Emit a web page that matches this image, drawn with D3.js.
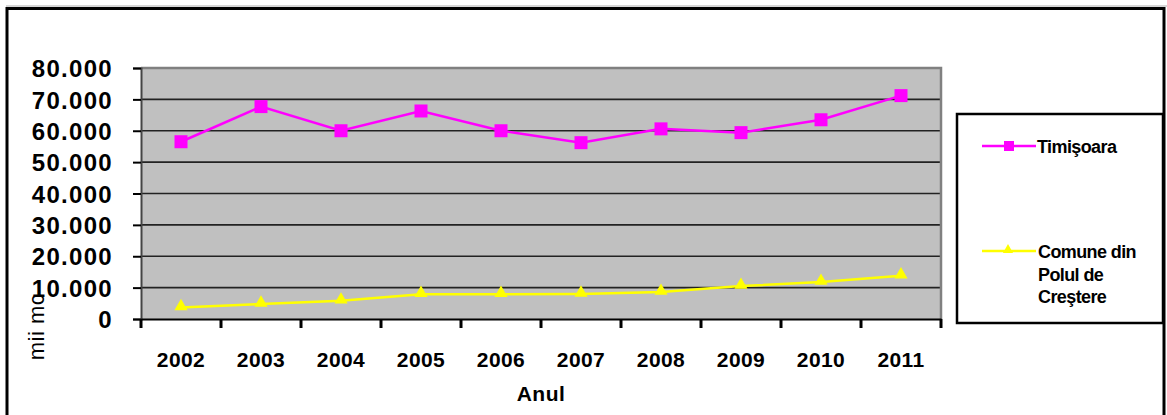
<!DOCTYPE html>
<html><head><meta charset="utf-8">
<script src="https://cdn.jsdelivr.net/npm/d3@7"></script>
<style>body{margin:0;background:#fff}svg{display:block}text{font-family:"Liberation Sans",Arial,sans-serif}</style>
</head><body><svg id="c" width="1167" height="415"></svg>
<script>
const years = ["2002","2003","2004","2005","2006","2007","2008","2009","2010","2011"];
const timisoara = [56500, 67700, 60000, 66300, 60000, 56200, 60600, 59400, 63500, 71200];
const comune = [3700, 4800, 5800, 7900, 7900, 8000, 8600, 10500, 11800, 13800];
const yTicks = [0,10000,20000,30000,40000,50000,60000,70000,80000];
const seriesNames = ["Timişoara", ["Comune din","Polul de","Creştere"]];

const svg = d3.select("#c");
const L = 141, R = 941, T = 68, B = 319;

// outer frame
svg.append("line").attr("x1",6).attr("x2",1167).attr("y1",6).attr("y2",6).attr("stroke","#c8c8c8").attr("stroke-width",1.5);
svg.append("rect").attr("x",7).attr("y",8.5).attr("width",1157).attr("height",420)
  .attr("fill","none").attr("stroke","#000").attr("stroke-width",3);

const x = d3.scaleBand().domain(years).range([L,R]);
const y = d3.scaleLinear().domain([0,80000]).range([B,T]);

// plot area
svg.append("rect").attr("x",L).attr("y",T).attr("width",R-L).attr("height",B-T).attr("fill","#c0c0c0");
svg.append("g").selectAll("line").data(yTicks.filter(d=>d>0 && d<80000)).join("line")
  .attr("x1",L).attr("x2",R).attr("y1",d=>y(d)).attr("y2",d=>y(d))
  .attr("stroke","#222").attr("stroke-width",1.6);
svg.append("path").attr("d",`M${L},${T}H${R}V${B}`).attr("fill","none").attr("stroke","#808080").attr("stroke-width",2.5);

const fmt = d => d===0 ? "0" : d3.format(",")(d).replace(/,/g,".");
const ya = svg.append("g").attr("transform",`translate(${L},0)`)
  .call(d3.axisLeft(y).tickValues(yTicks).tickSize(8).tickPadding(20).tickFormat(fmt));
ya.select(".domain").attr("stroke","#444").attr("stroke-width",2);
ya.selectAll(".tick line").attr("stroke","#000").attr("stroke-width",2);
ya.selectAll("text").attr("font-size",24).attr("font-weight","bold").attr("fill","#000")
  .attr("font-family","'Liberation Sans',Arial,sans-serif").style("letter-spacing","1.3px").attr("dy","0.36em");

const xa = svg.append("g").attr("transform",`translate(0,${B})`)
  .call(d3.axisBottom(x).tickSize(0).tickPadding(33));
xa.select(".domain").attr("stroke","#000").attr("stroke-width",2);
xa.selectAll("text").attr("font-size",21).attr("font-weight","bold").attr("fill","#000")
  .attr("font-family","'Liberation Sans',Arial,sans-serif").style("letter-spacing","0.4px");
const bounds = years.map(d=>x(d)).concat([x(years[years.length-1])+x.bandwidth()]);
svg.append("g").selectAll("line").data(bounds).join("line")
  .attr("x1",d=>d).attr("x2",d=>d).attr("y1",B).attr("y2",B+9)
  .attr("stroke","#000").attr("stroke-width",3);

svg.append("text").attr("x",(L+R)/2).attr("y",401).attr("text-anchor","middle")
  .attr("font-size",21).attr("font-weight","bold").style("letter-spacing","0.5px").text("Anul");
svg.append("text").attr("transform","translate(44,327) rotate(-90)").attr("text-anchor","middle")
  .attr("font-size",22).style("letter-spacing","0.5px").text("mii mc");

const cx = d => x(d)+x.bandwidth()/2;
const line = d3.line().x((d,i)=>cx(years[i])).y(d=>y(d));

svg.append("path").datum(comune).attr("d",line).attr("fill","none").attr("stroke","#ffff00").attr("stroke-width",2.5);
const tri = d3.symbol().type(d3.symbolTriangle).size(75);
svg.append("g").selectAll("path").data(comune).join("path")
  .attr("d",tri).attr("transform",(d,i)=>`translate(${cx(years[i])},${y(d)-1})`).attr("fill","#ffff00");

svg.append("path").datum(timisoara).attr("d",line).attr("fill","none").attr("stroke","#ff00ff").attr("stroke-width",2.5);
svg.append("g").selectAll("rect").data(timisoara).join("rect")
  .attr("x",(d,i)=>cx(years[i])-6.5).attr("y",d=>y(d)-6.5).attr("width",13).attr("height",13).attr("fill","#ff00ff");

// legend
svg.append("rect").attr("x",957).attr("y",114).attr("width",206).attr("height",209)
  .attr("fill","#fff").attr("stroke","#000").attr("stroke-width",2.5);
const lg = svg.append("g");
lg.append("line").attr("x1",982).attr("x2",1036).attr("y1",146).attr("y2",146).attr("stroke","#ff00ff").attr("stroke-width",2.5);
lg.append("rect").attr("x",1004).attr("y",141).attr("width",10).attr("height",10).attr("fill","#ff00ff");
lg.append("text").attr("x",1037).attr("y",153).attr("font-size",18).attr("font-weight","bold")
  .style("letter-spacing","-0.6px").text(seriesNames[0]);
lg.append("line").attr("x1",982).attr("x2",1036).attr("y1",251).attr("y2",251).attr("stroke","#ffff00").attr("stroke-width",2.5);
lg.append("path").attr("d",d3.symbol().type(d3.symbolTriangle).size(45)).attr("transform","translate(1008,250)").attr("fill","#ffff00");
seriesNames[1].forEach((t,i)=>{
  lg.append("text").attr("x",1038).attr("y",258+i*22.5).attr("font-size",18).attr("font-weight","bold")
    .style("letter-spacing","-0.6px").text(t);
});
</script></body></html>
